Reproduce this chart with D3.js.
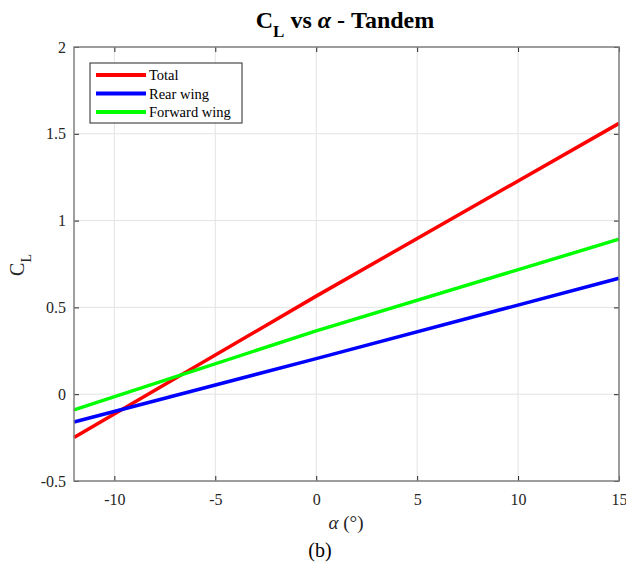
<!DOCTYPE html>
<head>
  <meta charset="utf-8">
  <script src="https://d3js.org/d3.v7.min.js"></script>
  <style>
    body { margin:0; background:#fff; }
    text { font-family: "Liberation Serif", "Times New Roman", serif; }
    .tick text { fill:#262626; font-size:16px; }
  </style>
</head>
<body>
<script>
  // data
  var alpha = [-12, 0, 15];
  var total = [-0.25, 0.565, 1.56];
  var rearWing = [-0.16, 0.205, 0.668];
  var forwardWing = [-0.09, 0.365, 0.893];
  var seriesNames = ["Total", "Rear wing", "Forward wing"];
  var xTicks = [-10, -5, 0, 5, 10, 15];
  var yTicks = [-0.5, 0, 0.5, 1, 1.5, 2];

  var color = ["#ff0000", "#0000ff", "#00ff00"];
  var margin = {top: 47, right: 7, bottom: 86, left: 74};
  var W = 626, H = 567;
  var width = W - margin.left - margin.right,
      height = H - margin.top - margin.bottom;

  var svg = d3.select("body").append("svg")
    .attr("width", W).attr("height", H);
  var g = svg.append("g")
    .attr("transform", "translate(" + margin.left + "," + margin.top + ")");

  var x = d3.scaleLinear().domain([-12, 15]).range([0, width]);
  var y = d3.scaleLinear().domain([-0.5, 2]).range([height, 0]);

  // grid
  g.append("g").selectAll("line").data(xTicks).enter().append("line")
    .attr("x1", d => x(d)).attr("x2", d => x(d))
    .attr("y1", 0).attr("y2", height)
    .attr("stroke", "#e3e3e3").attr("stroke-width", 1);
  g.append("g").selectAll("line").data(yTicks).enter().append("line")
    .attr("y1", d => y(d)).attr("y2", d => y(d))
    .attr("x1", 0).attr("x2", width)
    .attr("stroke", "#e3e3e3").attr("stroke-width", 1);

  var data = [total, rearWing, forwardWing].map(function(v) {
    return v.map(function(c, i) { return {a: alpha[i], c: c}; });
  });

  var line = d3.line().x(d => x(d.a)).y(d => y(d.c));
  g.selectAll(".line").data(data).enter().append("path")
    .attr("d", line)
    .attr("fill", "none")
    .attr("stroke", (d, i) => color[i])
    .attr("stroke-width", 3.5);

  // axes (box with inward ticks)
  function styleAxis(sel) {
    sel.select(".domain").remove();
    sel.selectAll(".tick line").attr("stroke", "#262626");
  }
  var fmt = d => String(d);
  g.append("g").attr("transform", "translate(0," + height + ")")
    .call(d3.axisBottom(x).tickValues(xTicks).tickSizeInner(-5).tickSizeOuter(0).tickPadding(13).tickFormat(fmt))
    .call(styleAxis);
  g.append("g")
    .call(d3.axisTop(x).tickValues(xTicks).tickSizeInner(-5).tickSizeOuter(0).tickFormat(""))
    .call(styleAxis);
  g.append("g")
    .call(d3.axisLeft(y).tickValues(yTicks).tickSizeInner(-5).tickSizeOuter(0).tickPadding(8).tickFormat(fmt))
    .call(styleAxis);
  g.append("g").attr("transform", "translate(" + width + ",0)")
    .call(d3.axisRight(y).tickValues(yTicks).tickSizeInner(-5).tickSizeOuter(0).tickFormat(""))
    .call(styleAxis);
  g.selectAll(".tick text").attr("font-family", "Liberation Serif").attr("font-size", 16);

  g.append("rect")
    .attr("width", width).attr("height", height)
    .attr("fill", "none").attr("stroke", "#808080").attr("stroke-width", 1.5);

  // legend
  var lg = g.append("g").attr("transform", "translate(16,16)");
  lg.append("rect").attr("width", 152).attr("height", 60)
    .attr("fill", "#fff").attr("stroke", "#262626").attr("stroke-width", 1);
  var item = lg.selectAll(".item").data(seriesNames).enter().append("g")
    .attr("transform", (d, i) => "translate(0," + (12 + i * 18.5) + ")");
  item.append("line").attr("x1", 6).attr("x2", 56)
    .attr("stroke", (d, i) => color[i]).attr("stroke-width", 4);
  item.append("text").attr("x", 59).attr("y", 5)
    .attr("font-size", 14.5).attr("fill", "#000").text(d => d);

  // title
  var title = svg.append("text").attr("x", 345).attr("y", 28)
    .attr("text-anchor", "middle").attr("font-size", 24).attr("font-weight", "bold")
    .attr("fill", "#000");
  title.append("tspan").text("C");
  title.append("tspan").attr("font-size", 17).attr("dy", 9).text("L");
  title.append("tspan").attr("dy", -9).text(" vs ");
  title.append("tspan").attr("font-style", "italic").text("α");
  title.append("tspan").text(" - Tandem");

  // y label
  var yl = svg.append("text").attr("transform", "translate(24,265) rotate(-90)")
    .attr("text-anchor", "middle").attr("font-size", 20).attr("fill", "#262626");
  yl.append("tspan").text("C");
  yl.append("tspan").attr("font-size", 14).attr("dy", 7).text("L");

  // x label
  var xl = svg.append("text").attr("x", 346).attr("y", 529)
    .attr("text-anchor", "middle").attr("font-size", 19).attr("fill", "#262626");
  xl.append("tspan").attr("font-style", "italic").text("α");
  xl.append("tspan").text(" (°)");

  svg.append("text").attr("x", 320).attr("y", 557)
    .attr("text-anchor", "middle").attr("font-size", 20).attr("fill", "#000")
    .text("(b)");
</script>
</body>
